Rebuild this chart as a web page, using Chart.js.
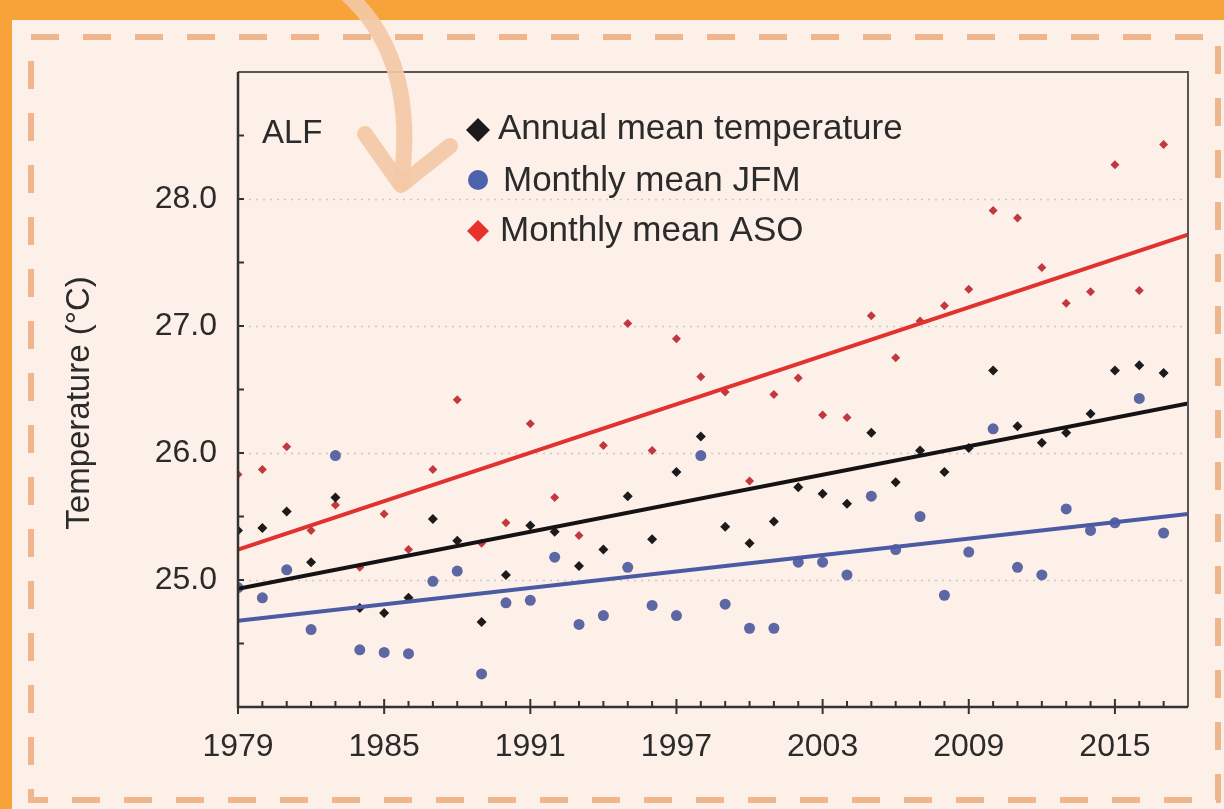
<!DOCTYPE html>
<html>
<head>
<meta charset="utf-8">
<title>ALF temperature</title>
<script src="https://cdn.jsdelivr.net/npm/chart.js@4.4.0/dist/chart.umd.min.js"></script>
<style>
  html, body { margin: 0; padding: 0; background: #f8a23a; }
  #wrap { width: 1224px; height: 809px; }
</style>
</head>
<body>
<div id="wrap"><canvas id="chart" width="1224" height="809"></canvas></div>
<script>
// values
const years = [1979, 1980, 1981, 1982, 1983, 1984, 1985, 1986, 1987, 1988, 1989, 1990, 1991, 1992, 1993, 1994, 1995, 1996, 1997, 1998,
               1999, 2000, 2001, 2002, 2003, 2004, 2005, 2006, 2007, 2008, 2009, 2010, 2011, 2012, 2013, 2014, 2015, 2016, 2017];
const annualMean = [25.39, 25.41, 25.54, 25.14, 25.65, 24.78, 24.74, 24.86, 25.48, 25.31, 24.67, 25.04, 25.43, 25.38, 25.11, 25.24, 25.66,
                    25.32, 25.85, 26.13, 25.42, 25.29, 25.46, 25.73, 25.68, 25.60, 26.16, 25.77, 26.02, 25.85, 26.04, 26.65, 26.21, 26.08,
                    26.16, 26.31, 26.65, 26.69, 26.63];
const jfmMean = [24.94, 24.86, 25.08, 24.61, 25.98, 24.45, 24.43, 24.42, 24.99, 25.07, 24.26, 24.82, 24.84, 25.18, 24.65, 24.72, 25.10,
                 24.80, 24.72, 25.98, 24.81, 24.62, 24.62, 25.14, 25.14, 25.04, 25.66, 25.24, 25.50, 24.88, 25.22, 26.19, 25.10, 25.04,
                 25.56, 25.39, 25.45, 26.43, 25.37];
const asoMean = [25.83, 25.87, 26.05, 25.39, 25.59, 25.10, 25.52, 25.24, 25.87, 26.42, 25.29, 25.45, 26.23, 25.65, 25.35, 26.06, 27.02,
                 26.02, 26.90, 26.60, 26.48, 25.78, 26.46, 26.59, 26.30, 26.28, 27.08, 26.75, 27.04, 27.16, 27.29, 27.91, 27.85, 27.46,
                 27.18, 27.27, 28.27, 27.28, 28.43];

// trend lines, read at the two ends of the axis
const trendYears = [1979, 2018];
const trendAnnual = [24.93, 26.39];
const trendJfm = [24.68, 25.52];
const trendAso = [25.24, 27.72];

const xTickLabels = [1979, 1985, 1991, 1997, 2003, 2009, 2015];
const yTickLabels = [25, 26, 27, 28];
const legendLabels = ['Annual mean temperature', 'Monthly mean JFM', 'Monthly mean ASO'];
const panelLabel = 'ALF';
const yTitle = 'Temperature (°C)';

const FONT = '"Liberation Sans", Arial, Helvetica, sans-serif';
const TEXT = '#2b2b2b';

const pts = (ys, xs) => ys.map((v, i) => ({ x: xs[i], y: v }));

// background, dashed frame and the hand drawn arrow
const decor = {
    id: 'decor',
    beforeDraw(chart) {
        const ctx = chart.ctx;
        ctx.save();
        ctx.fillStyle = '#f8a23a';
        ctx.fillRect(0, 0, 1224, 809);
        ctx.fillStyle = '#fdf0e8';
        ctx.fillRect(12, 20, 1212, 789);
        ctx.strokeStyle = '#efb58c';
        ctx.lineWidth = 6;
        ctx.setLineDash([28, 24]);
        ctx.strokeRect(31, 37, 1187, 763);
        ctx.restore();
    },
    beforeDatasetsDraw(chart) {
        const { ctx, chartArea, scales } = chart;
        ctx.save();
        // dotted grid at the labelled values
        ctx.strokeStyle = '#cdc8c4';
        ctx.lineWidth = 1.5;
        ctx.setLineDash([2, 5]);
        yTickLabels.forEach(v => {
            const y = Math.round(scales.y.getPixelForValue(v)) + 0.5;
            ctx.beginPath();
            ctx.moveTo(chartArea.left + 4, y);
            ctx.lineTo(chartArea.right - 6, y);
            ctx.stroke();
        });
        ctx.restore();
    },
    afterDraw(chart) {
        const { ctx, chartArea, scales } = chart;
        const { left, right, top, bottom } = chartArea;
        ctx.save();
        // box
        ctx.strokeStyle = '#5a5552';
        ctx.lineWidth = 2;
        ctx.beginPath();
        ctx.moveTo(left, top); ctx.lineTo(right, top); ctx.lineTo(right, bottom);
        ctx.stroke();
        ctx.strokeStyle = '#333';
        ctx.lineWidth = 2.5;
        ctx.beginPath();
        ctx.moveTo(left, top); ctx.lineTo(left, bottom); ctx.lineTo(right, bottom);
        ctx.stroke();

        // tick marks
        ctx.lineWidth = 2;
        for (let v = 24.5; v < 29; v += 0.5) {
            const y = scales.y.getPixelForValue(v);
            ctx.beginPath();
            ctx.moveTo(left, y); ctx.lineTo(left + 6, y);
            ctx.stroke();
        }
        years.forEach(yr => {
            const x = scales.x.getPixelForValue(yr);
            const major = xTickLabels.includes(yr);
            ctx.beginPath();
            ctx.moveTo(x, major ? bottom + 7 : bottom);
            ctx.lineTo(x, bottom - (major ? 8 : 6));
            ctx.stroke();
        });

        // y axis title
        ctx.save();
        ctx.translate(80, 403);
        ctx.rotate(-Math.PI / 2);
        ctx.fillStyle = TEXT;
        ctx.font = '33px ' + FONT;
        ctx.textAlign = 'center';
        ctx.textBaseline = 'middle';
        ctx.fillText(yTitle, 0, 0);
        ctx.restore();

        // panel label and legend
        ctx.fillStyle = TEXT;
        ctx.font = '33px ' + FONT;
        ctx.textBaseline = 'alphabetic';
        ctx.textAlign = 'left';
        ctx.fillText(panelLabel, 262, 143);

        const ds = chart.data.datasets;
        const rows = [
            { y: 130, tx: 498, base: 139, color: ds[0].backgroundColor, shape: 'diamond', r: 12 },
            { y: 180, tx: 503, base: 191, color: '#4d62ad', shape: 'circle', r: 10 },
            { y: 231, tx: 500, base: 241, color: '#e8302c', shape: 'diamond', r: 11 }
        ];
        rows.forEach((row, i) => {
            ctx.fillStyle = row.color;
            ctx.beginPath();
            if (row.shape === 'circle') {
                ctx.arc(478, row.y, row.r, 0, Math.PI * 2);
            } else {
                ctx.moveTo(478, row.y - row.r);
                ctx.lineTo(478 + row.r, row.y);
                ctx.lineTo(478, row.y + row.r);
                ctx.lineTo(478 - row.r, row.y);
                ctx.closePath();
            }
            ctx.fill();
            ctx.fillStyle = TEXT;
            ctx.font = '35px ' + FONT;
            ctx.fillText(legendLabels[i], row.tx, row.base);
        });

        // arrow
        ctx.strokeStyle = 'rgba(243, 201, 165, 0.92)';
        ctx.lineWidth = 16;
        ctx.lineCap = 'round';
        ctx.lineJoin = 'round';
        ctx.beginPath();
        ctx.moveTo(348, -5);
        ctx.quadraticCurveTo(418, 60, 401, 183);
        ctx.stroke();
        ctx.beginPath();
        ctx.moveTo(365, 134);
        ctx.lineTo(401, 185);
        ctx.lineTo(450, 146);
        ctx.stroke();
        ctx.restore();
    }
};

new Chart(document.getElementById('chart'), {
    type: 'scatter',
    data: {
        datasets: [
            { label: legendLabels[0], data: pts(annualMean, years), pointStyle: 'rectRot', pointRadius: 5,
              backgroundColor: '#1c1a1a', borderColor: '#1c1a1a', borderWidth: 0, order: 2, clip: 0 },
            { label: legendLabels[1], data: pts(jfmMean, years), pointStyle: 'circle', pointRadius: 5.5,
              backgroundColor: '#5d67a3', borderColor: '#5d67a3', borderWidth: 0, order: 2, clip: 0 },
            { label: legendLabels[2], data: pts(asoMean, years), pointStyle: 'rectRot', pointRadius: 4.5,
              backgroundColor: '#c1393f', borderColor: '#c1393f', borderWidth: 0, order: 2, clip: 0 },
            { label: 'trend ASO', data: pts(trendAso, trendYears), showLine: true, pointRadius: 0,
              borderColor: '#e0322f', borderWidth: 4, order: 1, clip: 0 },
            { label: 'trend annual', data: pts(trendAnnual, trendYears), showLine: true, pointRadius: 0,
              borderColor: '#141212', borderWidth: 4, order: 1, clip: 0 },
            { label: 'trend JFM', data: pts(trendJfm, trendYears), showLine: true, pointRadius: 0,
              borderColor: '#4b5aa3', borderWidth: 4, order: 1, clip: 0 }
        ]
    },
    options: {
        responsive: false,
        devicePixelRatio: 1,
        animation: false,
        layout: { padding: { left: 0, top: 72, right: 36, bottom: 0 } },
        plugins: { legend: { display: false }, tooltip: { enabled: false } },
        scales: {
            x: {
                type: 'linear',
                min: 1979,
                max: 2018,
                grid: { display: false },
                border: { display: false },
                afterBuildTicks: s => { s.ticks = xTickLabels.map(v => ({ value: v })); },
                afterFit: s => { s.height = 102; },
                ticks: {
                    autoSkip: false,
                    maxRotation: 0,
                    padding: 13,
                    color: TEXT,
                    font: { family: FONT, size: 32 },
                    callback: v => String(v)
                }
            },
            y: {
                min: 24,
                max: 29,
                grid: { display: false },
                border: { display: false },
                afterBuildTicks: s => { s.ticks = yTickLabels.map(v => ({ value: v })); },
                afterFit: s => { s.width = 238; },
                ticks: {
                    padding: 13,
                    color: TEXT,
                    font: { family: FONT, size: 32 },
                    callback: v => v.toFixed(1)
                }
            }
        }
    },
    plugins: [decor]
});
</script>
</body>
</html>
